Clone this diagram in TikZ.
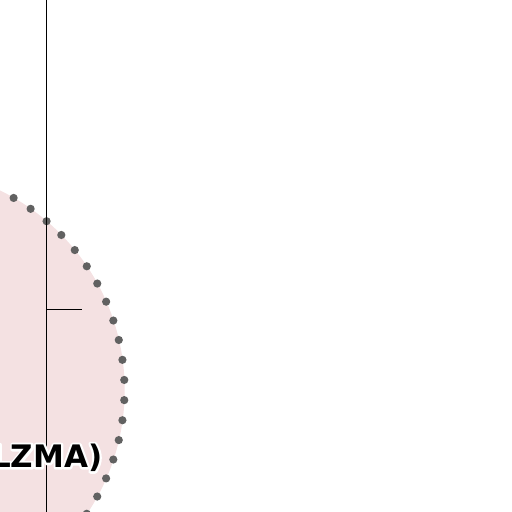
\documentclass[tikz,border=0pt]{standalone}
\usepackage{fontspec}
\setmainfont{DejaVu Sans}
\usetikzlibrary{calc}
\definecolor{pinkfill}{HTML}{F4E1E2}
\definecolor{dotgray}{HTML}{616161}
\newcommand{\halotext}[1]{\special{pdf:literal direct 1 Tr 4.4 w 1 J 1 j 1 1 1 RG}#1\special{pdf:literal direct 0 Tr}}
\begin{document}
\begin{tikzpicture}[x=1pt,y=1pt,
  guide/.style={line width=1pt,black},
  lbl/.style={font=\fontsize{31}{31}\selectfont\bfseries,inner sep=0pt,anchor=base east}]
\useasboundingbox (0,0) rectangle (512,512);
\clip (0,0) rectangle (512,512);
\coordinate (c) at (-97.3,122);
\fill[pinkfill] (c) circle[radius=222];
\foreach \k in {0,...,68} {
  \fill[dotgray] ($(c)+({2.6+\k*5.21739}:221.8)$) circle[radius=4.1];
}
\coordinate (top) at (46,512);
\coordinate (bot) at (46,0);
\coordinate (tick) at (82,202);
\draw[guide] (top) -- (bot);
\draw[guide] (46,202) -- (tick);
\node[lbl] (h) at (102.5,44.5) {\halotext{LZMA)}};
\node[lbl] (t) at (102.5,44.5) {LZMA)};
\end{tikzpicture}
\end{document}
